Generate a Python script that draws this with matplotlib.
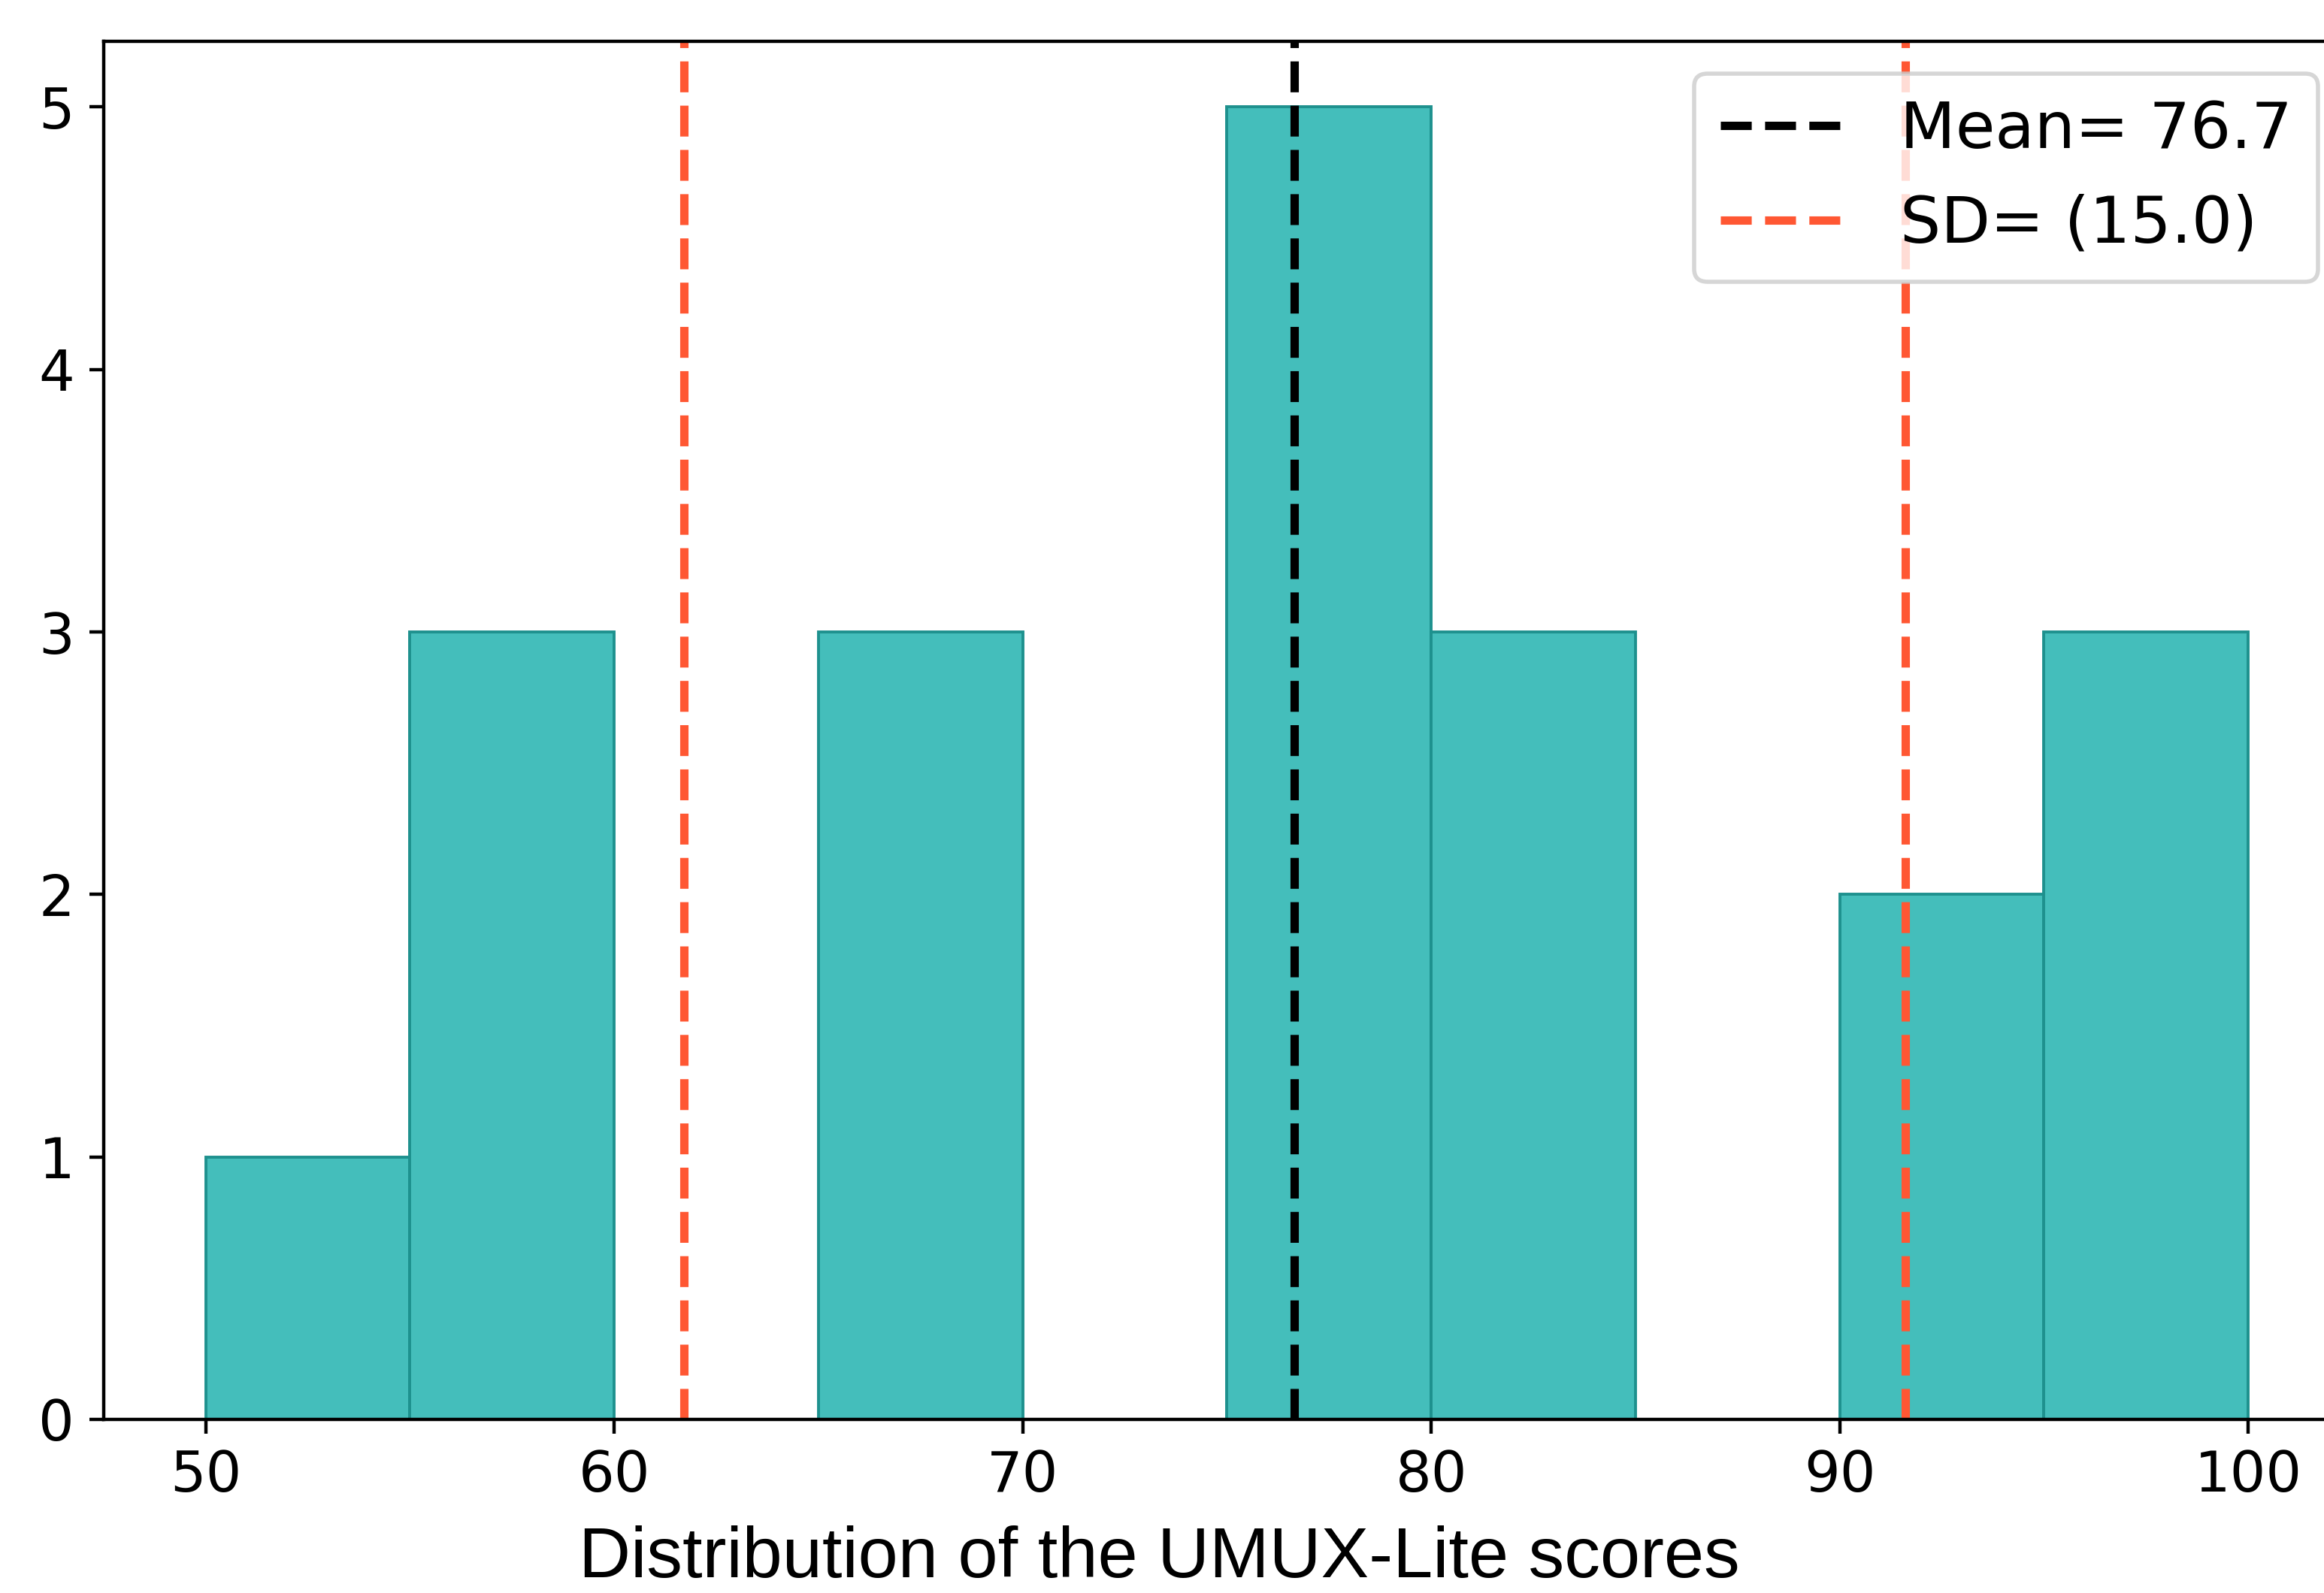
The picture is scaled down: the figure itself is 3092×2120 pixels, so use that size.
import matplotlib
matplotlib.use("Agg")
import matplotlib.pyplot as plt
import numpy as np

# Data
bin_edges = [50, 55, 60, 65, 70, 75, 80, 85, 90, 95, 100]
counts = [1, 3, 0, 3, 0, 5, 3, 0, 2, 3]
mean_val = 76.65
sd_val = 14.95
mean_label = "Mean= 76.7"
sd_label = "SD= (15.0)"
x_ticks = [50, 60, 70, 80, 90, 100]
y_ticks = [0, 1, 2, 3, 4, 5]
xlabel = "Distribution of the UMUX-Lite scores"

fig = plt.figure(figsize=(7.73, 5.30), dpi=400)
ax = fig.add_axes([0.0446, 0.109, 0.9667, 0.865])

ax.hist(bin_edges[:-1], bins=bin_edges, weights=counts,
        color="#44BEBB", edgecolor="#1E918E", linewidth=0.7)

ax.axvline(mean_val, color="black", linestyle="--", linewidth=2,
           label=mean_label)
ax.axvline(mean_val - sd_val, color="#FF5733", linestyle="--", linewidth=2,
           label=sd_label)
ax.axvline(mean_val + sd_val, color="#FF5733", linestyle="--", linewidth=2)

ax.set_xlim(47.5, 102.5)
ax.set_ylim(0, 5.25)
ax.set_xticks(x_ticks)
ax.set_yticks(y_ticks)
ax.tick_params(labelsize=13.5)

ax.set_xlabel(xlabel, fontsize=17.2, family="Liberation Sans")
ax.xaxis.set_label_coords(0.47, -0.077)

ax.legend(loc="upper right", fontsize=15.4)

fig.savefig("out.png", dpi=400)
